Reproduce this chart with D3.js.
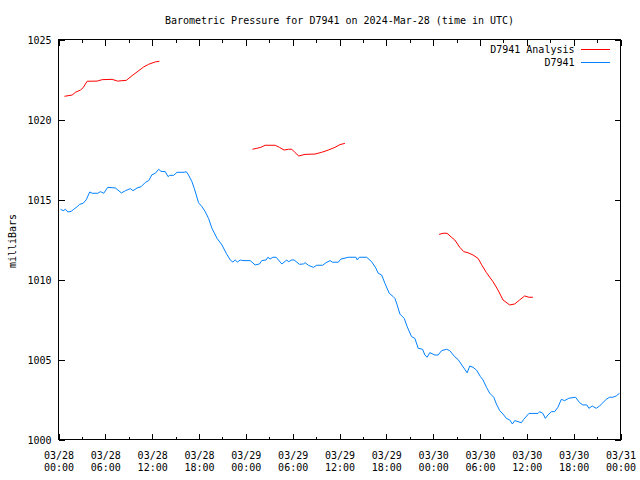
<!DOCTYPE html>
<html>
<head>
<meta charset="utf-8">
<script src="https://cdn.jsdelivr.net/npm/d3@7"></script>
<style>
body { margin: 0; background: #fff; }
text { font-family: "DejaVu Sans Mono", "Liberation Mono", monospace; font-size: 10px; fill: #000; }
</style>
</head>
<body>
<svg id="chart" width="640" height="480"></svg>
<script>
// ---- data (hours since 2024-03-28 00:00 UTC, pressure in mbar) ----
const titleText = "Barometric Pressure for D7941 on 2024-Mar-28 (time in UTC)";
const yLabel = "milliBars";
const seriesNames = ["D7941 Analysis", "D7941"];
const yTicks = [1000, 1005, 1010, 1015, 1020, 1025];
const xTickHours = [0, 6, 12, 18, 24, 30, 36, 42, 48, 54, 60, 66, 72];
const xTickLabels = [
  ["03/28","00:00"],["03/28","06:00"],["03/28","12:00"],["03/28","18:00"],
  ["03/29","00:00"],["03/29","06:00"],["03/29","12:00"],["03/29","18:00"],
  ["03/30","00:00"],["03/30","06:00"],["03/30","12:00"],["03/30","18:00"],
  ["03/31","00:00"]
];

// Analysis series (null = gap)
const analysisHours = [
  0.77, 1.75, 2.17, 2.81, 3.16, 3.67, 4.95, 5.59, 6.87, 7.58, 8.70, 9.42, 10.06, 10.90, 11.55, 12.40, 12.92,
  null,
  24.85, 25.41, 25.92, 26.47, 27.75, 28.30, 28.90, 29.45, 29.89, 30.31, 30.78, 31.59, 32.86, 33.72, 34.57, 35.42, 36.06, 36.70,
  null,
  48.76, 49.27, 49.78, 50.35, 50.77, 51.41, 51.92, 52.47, 53.11, 53.75, 54.18, 54.82, 55.67, 56.31, 56.95, 57.80, 58.44, 59.08, 59.72, 60.27, 60.78
];
const analysisValues = [
  1021.45, 1021.53, 1021.70, 1021.84, 1021.99, 1022.39, 1022.40, 1022.49, 1022.51, 1022.40, 1022.45, 1022.74, 1022.97, 1023.28, 1023.45, 1023.60, 1023.64,
  null,
  1018.14, 1018.20, 1018.26, 1018.39, 1018.39, 1018.26, 1018.09, 1018.14, 1018.14, 1017.93, 1017.72, 1017.82, 1017.84, 1017.95, 1018.09, 1018.26, 1018.43, 1018.51,
  null,
  1012.82, 1012.89, 1012.89, 1012.64, 1012.47, 1012.01, 1011.74, 1011.67, 1011.53, 1011.32, 1010.95, 1010.43, 1009.86, 1009.34, 1008.72, 1008.41, 1008.47, 1008.72, 1008.97, 1008.89, 1008.89
];

// Observed series
const obsHours = [
  0.26, 0.60, 0.90, 1.19, 1.62, 1.96, 2.39, 2.72, 3.16, 3.58, 4.00, 4.31, 5.03, 5.37, 5.79, 6.31, 7.29, 8.06, 8.57, 9.21,
  9.55, 10.06, 10.58, 11.13, 11.55, 11.98, 12.41, 12.83, 13.13, 13.68, 14.03, 14.24, 14.75, 15.18, 16.11, 16.37, 16.66, 17.10, 17.39, 17.65,
  17.94, 18.38, 18.80, 19.22, 19.66, 20.30, 20.94, 21.49, 22.00, 22.34, 22.64, 22.93, 23.28, 23.62, 24.56, 25.19, 25.74, 26.05, 26.60, 26.82,
  27.11, 27.46, 27.88, 28.61, 29.25, 29.45, 29.89, 30.18, 30.86, 31.37, 31.59, 32.01, 32.65, 33.08, 33.85, 34.27, 34.79, 35.13, 35.85, 36.15,
  37.13, 38.11, 38.28, 38.53, 39.48, 40.12, 40.67, 40.96, 41.40, 41.82, 42.37, 42.88, 43.10, 43.39, 43.74, 44.29, 44.67, 45.23, 45.66, 46.08,
  46.64, 46.94, 47.23, 47.57, 48.21, 48.64, 49.07, 49.71, 50.13, 50.77, 51.19, 51.76, 52.05, 52.35, 52.69, 53.11, 53.55, 54.06, 54.39, 54.83,
  55.25, 55.76, 56.10, 56.53, 56.95, 57.38, 57.81, 58.15, 58.45, 59.30, 59.60, 60.27, 61.43, 61.64, 62.06, 62.37, 62.70, 63.14, 63.56, 63.98,
  64.42, 64.84, 65.39, 66.25, 66.76, 67.18, 67.69, 67.95, 68.38, 68.89, 69.32, 69.66, 70.17, 70.60, 71.02, 71.45, 71.87
];
const obsValues = [
  1014.39, 1014.30, 1014.39, 1014.22, 1014.26, 1014.39, 1014.55, 1014.70, 1014.76, 1015.01, 1015.47, 1015.39, 1015.39, 1015.49, 1015.39, 1015.76, 1015.72, 1015.41, 1015.55, 1015.68,
  1015.55, 1015.72, 1015.80, 1016.07, 1016.18, 1016.55, 1016.64, 1016.89, 1016.76, 1016.74, 1016.43, 1016.51, 1016.51, 1016.70, 1016.70, 1016.74, 1016.53, 1016.11, 1015.70, 1015.28,
  1014.80, 1014.55, 1014.24, 1013.82, 1013.20, 1012.58, 1012.16, 1011.64, 1011.22, 1011.09, 1011.22, 1011.09, 1011.22, 1011.18, 1011.18, 1010.91, 1010.97, 1011.18, 1011.22, 1011.39,
  1011.28, 1011.39, 1011.39, 1010.97, 1011.22, 1011.11, 1011.22, 1011.22, 1010.95, 1010.97, 1011.05, 1010.89, 1010.76, 1010.89, 1010.89, 1011.05, 1011.18, 1011.08, 1011.08, 1011.27,
  1011.39, 1011.39, 1011.22, 1011.39, 1011.39, 1011.11, 1010.70, 1010.39, 1010.28, 1009.76, 1009.14, 1008.93, 1008.82, 1008.41, 1007.84, 1007.57, 1007.05, 1006.43, 1006.32, 1005.70,
  1005.64, 1005.28, 1005.14, 1005.43, 1005.28, 1005.28, 1005.55, 1005.64, 1005.55, 1005.17, 1005.00, 1004.59, 1004.39, 1004.17, 1004.59, 1004.51, 1004.34, 1003.93, 1003.72, 1003.26,
  1002.89, 1002.64, 1002.22, 1001.80, 1001.59, 1001.32, 1001.22, 1000.97, 1001.18, 1001.05, 1001.26, 1001.63, 1001.63, 1001.74, 1001.63, 1001.32, 1001.53, 1001.74, 1001.74, 1002.01,
  1002.51, 1002.43, 1002.58, 1002.64, 1002.30, 1002.16, 1002.16, 1001.95, 1002.09, 1001.95, 1002.09, 1002.26, 1002.51, 1002.64, 1002.64, 1002.72, 1002.89
];
const seriesColors = ["#ff0000", "#0080ff"];

// ---- drawing ----
const svg = d3.select("#chart");
const start = Date.UTC(2024, 2, 28);
const toDate = h => new Date(start + h * 3600000);

const L = 58.5, R = 620.5, T = 39.5, B = 439.5;
const x = d3.scaleUtc().domain([toDate(0), toDate(72)]).range([L, R]);
const y = d3.scaleLinear().domain([1000, 1025]).range([B, T]);

svg.append("text").attr("x", 339.5).attr("y", 20).attr("text-anchor", "middle")
  .attr("dominant-baseline", "central").text(titleText);

svg.append("text")
  .attr("transform", "translate(12,241) rotate(-90)")
  .attr("text-anchor", "middle").attr("dominant-baseline", "central").text(yLabel);

const majorDates = xTickHours.map(toDate);
const minorDates = xTickHours.slice(0, -1).map(h => toDate(h + 3));

function styleAxis(g) {
  g.select(".domain").remove();
  g.selectAll("line").attr("stroke", "#000").attr("shape-rendering", "crispEdges");
}

// bottom major with labels
const bottom = svg.append("g").attr("transform", `translate(0,${B})`)
  .call(d3.axisBottom(x).tickValues(majorDates).tickSizeInner(-6).tickSizeOuter(0).tickPadding(0)
    .tickFormat(() => ""));
styleAxis(bottom);
bottom.selectAll(".tick text").remove();
bottom.selectAll(".tick").each(function(d, i) {
  const t = d3.select(this).append("text").attr("text-anchor", "middle").attr("fill", "#000")
    .style("font-family", "'DejaVu Sans Mono', monospace").style("font-size", "10px");
  t.append("tspan").attr("x", 0).attr("y", 15.5).attr("dominant-baseline", "central").text(xTickLabels[i][0]);
  t.append("tspan").attr("x", 0).attr("y", 28).attr("dominant-baseline", "central").text(xTickLabels[i][1]);
});
// bottom minor
styleAxis(svg.append("g").attr("transform", `translate(0,${B})`)
  .call(d3.axisBottom(x).tickValues(minorDates).tickSizeInner(-3).tickSizeOuter(0).tickFormat(() => "")));
// top major & minor
styleAxis(svg.append("g").attr("transform", `translate(0,${T})`)
  .call(d3.axisTop(x).tickValues(majorDates).tickSizeInner(-6).tickSizeOuter(0).tickFormat(() => "")));
styleAxis(svg.append("g").attr("transform", `translate(0,${T})`)
  .call(d3.axisTop(x).tickValues(minorDates).tickSizeInner(-3).tickSizeOuter(0).tickFormat(() => "")));

// left axis with labels
const left = svg.append("g").attr("transform", `translate(${L},0)`)
  .call(d3.axisLeft(y).tickValues(yTicks).tickSizeInner(-6).tickSizeOuter(0).tickPadding(7).tickFormat(d3.format("d")));
styleAxis(left);
left.selectAll("text").attr("dy", null).attr("dominant-baseline", "central")
  .style("font-family", "'DejaVu Sans Mono', monospace").style("font-size", "10px").attr("fill", "#000");
// right axis ticks
styleAxis(svg.append("g").attr("transform", `translate(${R},0)`)
  .call(d3.axisRight(y).tickValues(yTicks).tickSizeInner(-6).tickSizeOuter(0).tickFormat(() => "")));

// frame
svg.append("rect").attr("x", L).attr("y", T).attr("width", R - L).attr("height", B - T)
  .attr("fill", "none").attr("stroke", "#000").attr("shape-rendering", "crispEdges");

// lines
const line = d3.line()
  .defined(d => d[0] !== null && d[1] !== null)
  .x(d => x(toDate(d[0]))).y(d => y(d[1]));

const analysisData = analysisHours.map((h, i) => [h, analysisValues[i]]);
const obsData = obsHours.map((h, i) => [h, obsValues[i]]);

svg.append("path").datum(analysisData).attr("d", line)
  .attr("fill", "none").attr("stroke", seriesColors[0]).attr("stroke-width", 1);
svg.append("path").datum(obsData).attr("d", line)
  .attr("fill", "none").attr("stroke", seriesColors[1]).attr("stroke-width", 1);

// legend
seriesNames.forEach((name, i) => {
  const ly = 49 + i * 13;
  svg.append("text").attr("x", 574.5).attr("y", ly).attr("text-anchor", "end")
    .attr("dominant-baseline", "central").text(name);
  svg.append("line").attr("x1", 581).attr("x2", 610).attr("y1", ly + 0.5).attr("y2", ly + 0.5)
    .attr("stroke", seriesColors[i]).attr("shape-rendering", "crispEdges");
});
</script>
</body>
</html>
